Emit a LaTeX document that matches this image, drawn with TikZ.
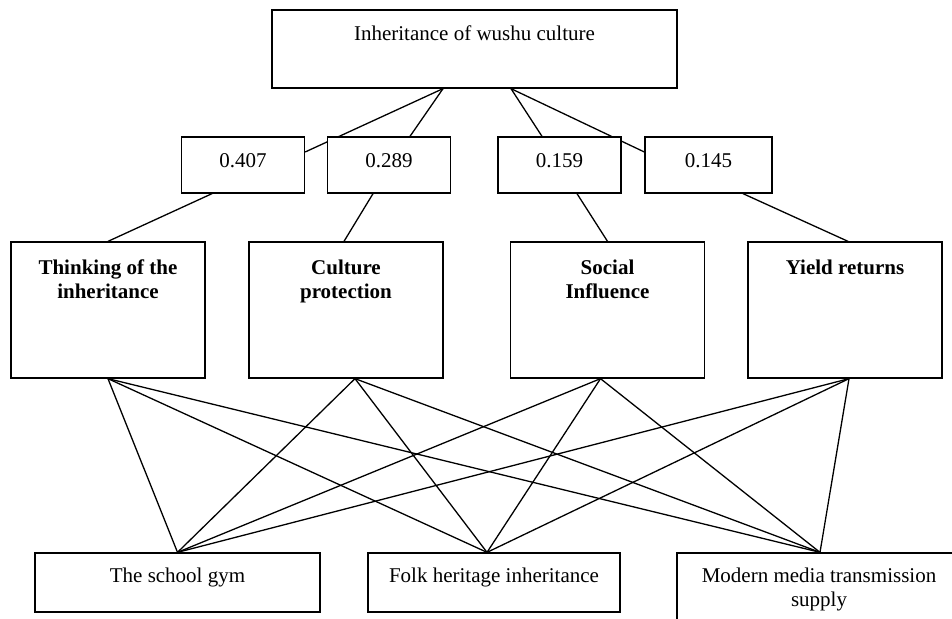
\documentclass[tikz,border=0pt]{standalone}
\usepackage{fontspec}
\setmainfont{Liberation Serif}
\usetikzlibrary{positioning,backgrounds}

\begin{document}
\begin{tikzpicture}[x=1pt,y=-1pt,line width=1.3pt,
        every node/.style={font=\fontsize{21}{24}\selectfont},
        box/.style={draw,fill=white,rectangle,inner sep=0pt},
        wt/.style={box,minimum width=123pt,minimum height=56pt,text depth=8pt},
        crit/.style={box,minimum width=194pt,minimum height=136pt},
        alt/.style={box,minimum width=285pt,minimum height=59pt},
        lbl/.style={inner sep=0pt,align=center},
        bold/.style={lbl,font=\fontsize{21}{24}\selectfont\bfseries}]
        \path[use as bounding box,clip] (0,0) rectangle (952,618);
        % goal
        \node[box,minimum width=405pt,minimum height=78pt](goal) at (474.5,49){};
        \node[lbl,below=16pt of goal.north](goal_t){Inheritance of wushu culture};
        % weights
        \node[wt](w1) at (243,165){0.407};
        \node[wt](w2) at (389,165){0.289};
        \node[wt](w3) at (559.5,165){0.159};
        \node[wt,minimum width=127pt](w4) at (708.5,165){0.145};
        % criteria
        \node[crit](c1) at (108,310){};
        \node[crit](c2) at (346,310){};
        \node[crit](c3) at (607.5,310){};
        \node[crit](c4) at (845,310){};
        \node[bold,below=18pt of c1.north](c1_t){Thinking of the\\inheritance};
        \node[bold,below=18pt of c2.north](c2_t){Culture\\protection};
        \node[bold,below=18pt of c3.north](c3_t){Social\\Influence};
        \node[bold,below=18pt of c4.north](c4_t){Yield returns};
        % alternatives
        \node[alt](a1) at (177.5,582.5){};
        \node[alt,minimum width=252pt](a2) at (494,582.5){};
        \node[alt,minimum width=284pt,minimum height=80pt](a3) at (819,593){};
        \node[lbl,below=15pt of a1.north](a1_t){The school gym};
        \node[lbl,below=15pt of a2.north](a2_t){Folk heritage inheritance};
        \node[lbl,below=15pt of a3.north](a3_t){Modern media transmission\\supply};

        \begin{scope}[on background layer={line width=1.3pt}]
        \path	([xshift=-31.5pt]goal.south)	edge	([yshift=13pt]w1.east)
        										edge	([xshift=21pt]w2.north)
        		([xshift=36.5pt]goal.south)		edge	([xshift=-17.5pt]w3.north)
        										edge	([yshift=13pt]w4.west);
        \path	([xshift=-31pt]w1.south)		edge	(c1.north)
        		([xshift=-16pt]w2.south)		edge	([xshift=-2pt]c2.north)
        		([xshift=17.5pt]w3.south)		edge	(c3.north)
        		([xshift=34.5pt]w4.south)		edge	([xshift=3pt]c4.north);
        \foreach \c/\dx in {c1/0,c2/9,c3/-7,c4/4}
            \foreach \a/\ax in {a1/0,a2/-7,a3/1}
                \draw ([xshift=\dx pt]\c.south) -- ([xshift=\ax pt]\a.north);
        \end{scope}
    \end{tikzpicture}
\end{document}
